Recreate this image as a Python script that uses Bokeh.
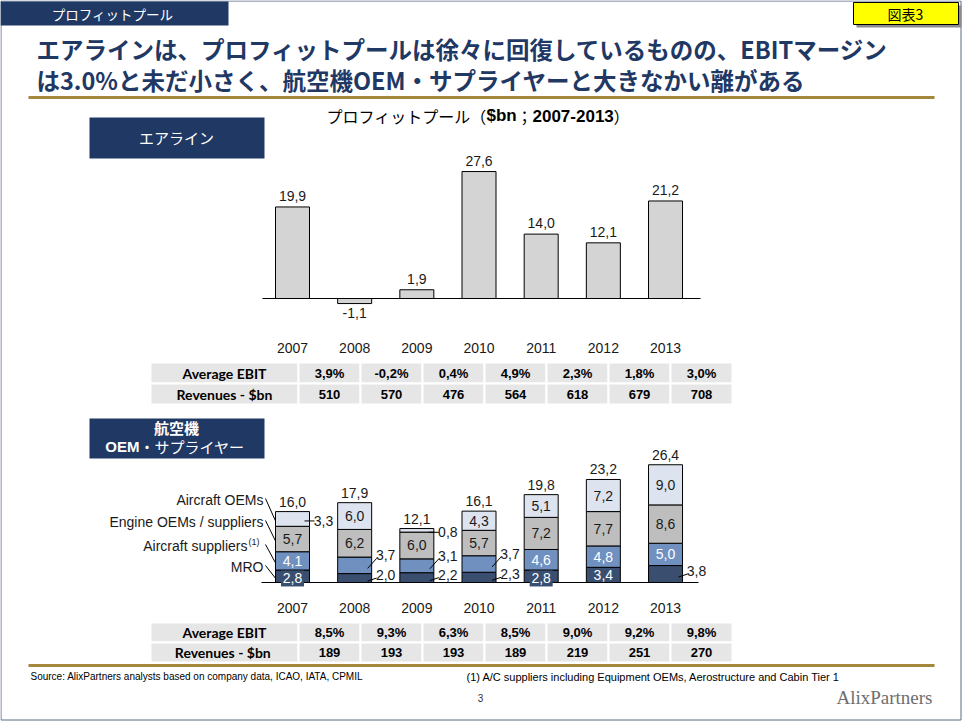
from bokeh.plotting import figure
from bokeh.models import Range1d
from bokeh.embed import file_html
from bokeh.resources import INLINE
from bokeh.core.properties import value

# ---------------- data ----------------
years = [2007, 2008, 2009, 2010, 2011, 2012, 2013]
year_labels = [str(y) for y in years]

airline_profit = [19.9, -1.1, 1.9, 27.6, 14.0, 12.1, 21.2]
airline_ebit = ["3,9%", "-0,2%", "0,4%", "4,9%", "2,3%", "1,8%", "3,0%"]
airline_revenue = ["510", "570", "476", "564", "618", "679", "708"]

mro = [2.8, 2.0, 2.2, 2.3, 2.8, 3.4, 3.8]
aircraft_suppliers = [4.1, 3.7, 3.1, 3.7, 4.6, 4.8, 5.0]
engine_oems = [5.7, 6.2, 6.0, 5.7, 7.2, 7.7, 8.6]
aircraft_oems = [3.3, 6.0, 0.8, 4.3, 5.1, 7.2, 9.0]
supplier_totals = [16.0, 17.9, 12.1, 16.1, 19.8, 23.2, 26.4]
supplier_ebit = ["8,5%", "9,3%", "6,3%", "8,5%", "9,0%", "9,2%", "9,8%"]
supplier_revenue = ["189", "193", "193", "189", "219", "251", "270"]

air_row_labels = ["Average EBIT", "Revenues - $bn"]
sup_row_labels = ["Average EBIT", "Revenues  - $bn"]
series_names = ["MRO", "Aircraft suppliers", "Engine OEMs / suppliers", "Aircraft OEMs"]

title_line1 = "エアラインは、プロフィットプールは徐々に回復しているものの、EBITマージン"
title_line2 = "は3.0%と未だ小さく、航空機OEM・サプライヤーと大きなかい離がある"

# ---------------- layout / style constants ----------------
W, H = 962, 722
XS, X0 = 62.17, 292.0          # px per year, px of first year
BAR_W = 34.0 / XS
T_BASE, T_S = 298.0, 4.6       # top chart baseline px, px per $bn
B_BASE, B_S = 582.0, 4.46      # bottom chart baseline px, px per $bn

NAVY = "#1F3864"
GOLD = "#A4863D"
TXT = "#1A1A1A"
CJK = value("Noto Sans CJK JP")
SANS = value("Liberation Sans")
LATO = value("Lato")
SER = value("Liberation Serif")

series_colors = ["#3A4E6F", "#7090C0", "#BEBEBE", "#DDE4EF"]
series_text = ["white", "white", TXT, TXT]

outside = {("MRO", 2008), ("MRO", 2009), ("MRO", 2010), ("MRO", 2013),
           ("Aircraft suppliers", 2008), ("Aircraft suppliers", 2009), ("Aircraft suppliers", 2010),
           ("Aircraft OEMs", 2007), ("Aircraft OEMs", 2009)}
boxed = {("MRO", 2007), ("MRO", 2011)}
outside_dy = {"MRO": -3, "Aircraft suppliers": -10, "Aircraft OEMs": 2}


def yr_of(px):
    return years[0] + (px - X0) / XS


def air_of(py):
    return (T_BASE - py) / T_S


def sup_of(py):
    return (B_BASE - py) / B_S


def fmt(v):
    return f"{v:.1f}".replace(".", ",")


p = figure(width=W, height=H, x_range=Range1d(0, W), y_range=Range1d(H, 0),
           output_backend="svg", toolbar_location=None, x_axis_type=None, y_axis_type=None,
           min_border=0, outline_line_color=None, title=None,
           background_fill_color="white", border_fill_color="white")
p.extra_x_ranges = {"yr": Range1d(yr_of(0), yr_of(W))}
p.extra_y_ranges = {"air": Range1d(air_of(H), air_of(0)), "sup": Range1d(sup_of(H), sup_of(0))}


def txt(x, y, s, size, color=TXT, font=SANS, style="normal", align="center", baseline="middle", **kw):
    p.text(x=[x], y=[y], text=[s], text_font=font, text_font_size=f"{size}px", text_color=color,
           text_font_style=style, text_align=align, text_baseline=baseline, **kw)


# ---------------- slide frame & header ----------------
p.quad(left=[0.5], right=[960.5], top=[0.5], bottom=[719.5], fill_color=None, line_color="#5B6A86", line_width=1)
p.quad(left=[0], right=[228], top=[1], bottom=[25], fill_color=NAVY, line_color=None)
txt(112, 13, "プロフィットプール", 13.5, color="white", font=CJK)

p.quad(left=[856], right=[961], top=[5], bottom=[27], fill_color="#8C8C8C", line_color=None)
p.quad(left=[853], right=[958], top=[2], bottom=[24], fill_color="#FFFF00", line_color="black", line_width=1)
txt(905, 13, "図表3", 14, color="black", font=CJK)

txt(36, 48, title_line1, 23.5, color=NAVY, font=CJK, style="bold", align="left")
txt(36, 79, title_line2, 23.5, color=NAVY, font=CJK, style="bold", align="left")
p.segment(x0=[28], y0=[97], x1=[934], y1=[97], line_color=GOLD, line_width=3)

# chart title
txt(326, 115, "プロフィットプール（", 16, color="black", font=CJK, align="left")
txt(486, 115, "$bn", 17, color="black", style="bold", align="left")
txt(516, 115, "；", 16, color="black", font=CJK, align="left")
txt(532, 115, "2007-2013", 17, color="black", style="bold", align="left")
txt(613, 115, "）", 16, color="black", font=CJK, align="left")

# ---------------- top chart: airlines ----------------
p.quad(left=[89], right=[264], top=[117], bottom=[158], fill_color=NAVY, line_color=None)
txt(176, 137, "エアライン", 15, color="white", font=CJK)

p.vbar(x=years, top=airline_profit, bottom=0, width=BAR_W, fill_color="#D4D4D4",
       line_color="black", line_width=1, x_range_name="yr", y_range_name="air")
p.segment(x0=[yr_of(262)], y0=[0], x1=[yr_of(700)], y1=[0], line_color="black", line_width=1.2,
          x_range_name="yr", y_range_name="air")
p.text(x=years, y=[max(v, 0) for v in airline_profit], text=[fmt(v) for v in airline_profit],
       y_offset=[-11 if v >= 0 else 14 for v in airline_profit],
       text_font=SANS, text_font_size="14px", text_color=TXT, text_align="center", text_baseline="middle",
       x_range_name="yr", y_range_name="air")
p.text(x=years, y=[347] * len(years), text=year_labels, text_font=SANS, text_font_size="14px",
       text_color=TXT, text_align="center", text_baseline="middle", x_range_name="yr")

# ---------------- tables ----------------
TX0, LW, CW = 150, 148, 62


def table(top, row_h, labels, rows):
    n = len(years)
    for r, (lab, vals) in enumerate(zip(labels, rows)):
        t = top + r * row_h
        b = t + row_h
        lefts = [TX0] + [TX0 + LW + i * CW for i in range(n)]
        rights = [TX0 + LW] + [TX0 + LW + (i + 1) * CW for i in range(n)]
        p.quad(left=lefts, right=rights, top=[t] * (n + 1), bottom=[b] * (n + 1),
               fill_color="#E6E6E6", line_color="white", line_width=2)
        yc = (t + b) / 2
        txt(TX0 + LW / 2, yc, lab, 14, color="black", font=LATO, style="bold")
        p.text(x=[TX0 + LW + (i + 0.5) * CW for i in range(n)], y=[yc] * n, text=list(vals),
               text_font=SANS, text_font_size="13px", text_font_style="bold", text_color="black",
               text_align="center", text_baseline="middle")


table(362, 21, air_row_labels, [airline_ebit, airline_revenue])
table(622, 20, sup_row_labels, [supplier_ebit, supplier_revenue])

# ---------------- bottom chart: OEM / suppliers ----------------
p.quad(left=[89], right=[264], top=[418], bottom=[458], fill_color=NAVY, line_color=None)
txt(176, 427, "航空機", 15, color="white", font=CJK, style="bold")
txt(139, 446, "OEM", 15, color="white", style="bold", align="right")
txt(139, 446, "・サプライヤー", 15, color="white", font=CJK, align="left")

series_vals = [mro, aircraft_suppliers, engine_oems, aircraft_oems]
cum = [0.0] * len(years)
mids = {}
for name, vals, col in zip(series_names, series_vals, series_colors):
    tops = [c + v for c, v in zip(cum, vals)]
    p.vbar(x=years, bottom=cum, top=tops, width=BAR_W, fill_color=col, line_color="black",
           line_width=1, x_range_name="yr", y_range_name="sup")
    mids[name] = [(c + t) / 2 for c, t in zip(cum, tops)]
    cum = tops

p.segment(x0=[yr_of(261)], y0=[0], x1=[yr_of(698)], y1=[0], line_color="black", line_width=1.2,
          x_range_name="yr", y_range_name="sup")

# segment labels
for name, vals, tcol in zip(series_names, series_vals, series_text):
    for i, (yv, v) in enumerate(zip(years, vals)):
        m = mids[name][i]
        if (name, yv) in outside:
            dy = outside_dy[name]
            right = yv + BAR_W / 2
            lx = right + 14 / XS
            if name == "Aircraft OEMs":
                p.segment(x0=[right - 5 / XS], y0=[m - dy / B_S], x1=[right + 5 / XS], y1=[m - dy / B_S],
                          line_color="black", line_width=1, x_range_name="yr", y_range_name="sup")
            else:
                p.segment(x0=[right - 4 / XS], y0=[m - 3 / B_S], x1=[right + 5 / XS], y1=[m - (dy + 3) / B_S],
                          line_color="black", line_width=1, x_range_name="yr", y_range_name="sup")
            p.text(x=[lx], y=[m], text=[fmt(v)], y_offset=[dy], text_font=SANS, text_font_size="14px",
                   text_color=TXT, text_align="center", text_baseline="middle",
                   x_range_name="yr", y_range_name="sup")
        elif (name, yv) in boxed:
            cy = m - 2.2 / B_S
            p.rect(x=[yv], y=[cy], width=[23 / XS], height=[16 / B_S], fill_color=series_colors[0],
                   line_color=None, x_range_name="yr", y_range_name="sup")
            p.text(x=[yv], y=[cy], text=[fmt(v)], text_font=SANS, text_font_size="14px",
                   text_color="white", text_align="center", text_baseline="middle",
                   x_range_name="yr", y_range_name="sup")
        else:
            p.text(x=[yv], y=[m], text=[fmt(v)], text_font=SANS, text_font_size="14px",
                   text_color=tcol, text_align="center", text_baseline="middle",
                   x_range_name="yr", y_range_name="sup")

# totals
p.text(x=years, y=cum, text=[fmt(v) for v in supplier_totals], y_offset=[-10] * len(years),
       text_font=SANS, text_font_size="14px", text_color=TXT, text_align="center",
       text_baseline="middle", x_range_name="yr", y_range_name="sup")
p.text(x=years, y=[607] * len(years), text=year_labels, text_font=SANS, text_font_size="14px",
       text_color=TXT, text_align="center", text_baseline="middle", x_range_name="yr")

# legend labels with leaders to the first bar
legend_y = {"Aircraft OEMs": 499, "Engine OEMs / suppliers": 521, "Aircraft suppliers": 545, "MRO": 566}
for name in series_names:
    ly = legend_y[name]
    if name == "Aircraft suppliers":
        txt(247, ly, name, 14, color=TXT, align="right")
        txt(248, ly - 4, "(1)", 9, color=TXT, align="left")
    else:
        txt(263, ly, name, 14, color=TXT, align="right")
    p.segment(x0=[yr_of(265)], y0=[sup_of(ly - 1)], x1=[years[0] - BAR_W / 2],
              y1=[mids[name][0] - 2 / B_S], line_color="black", line_width=1,
              x_range_name="yr", y_range_name="sup")

# ---------------- footer ----------------
p.segment(x0=[28], y0=[665], x1=[934], y1=[665], line_color=GOLD, line_width=3)
txt(30, 676, "Source: AlixPartners analysts based on company data, ICAO, IATA, CPMIL", 10, color="black", align="left")
txt(466, 676, "(1) A/C suppliers including Equipment OEMs, Aerostructure and Cabin Tier 1", 11, color="black", align="left")
txt(480, 697, "3", 10, color="#333333")
txt(932, 697, "AlixPartners", 19, color="#6D6E71", font=SER, align="right")

open("out.html", "w").write(file_html(p, INLINE))
